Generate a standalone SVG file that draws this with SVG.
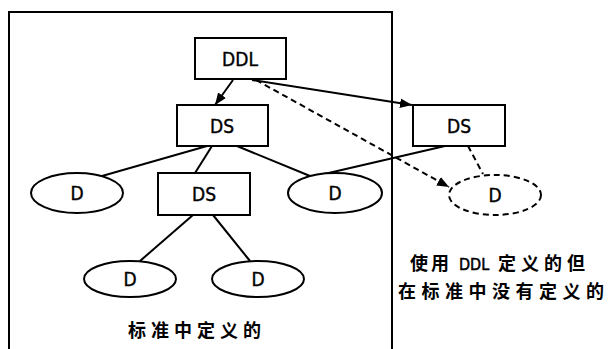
<svg xmlns="http://www.w3.org/2000/svg" width="608" height="349" viewBox="0 0 608 349">
  <style>
    .box { fill: #fff; stroke: #000; stroke-width: 2; }
    .dash { fill: #fff; stroke: #000; stroke-width: 2; stroke-dasharray: 6 4; }
    .edge { fill: none; stroke: #000; stroke-width: 2; }
    .edge-dash { fill: none; stroke: #000; stroke-width: 2; stroke-dasharray: 6 4; }
    .lbl { font-family: "DejaVu Sans Condensed", "DejaVu Sans", sans-serif; font-size: 19px; fill: #000; stroke: #000; stroke-width: 0.4; text-anchor: middle; }
    .cap { font-family: "Noto Sans CJK SC", "DejaVu Sans", sans-serif; font-size: 18px; font-weight: bold; fill: #000; }
    .lat { font-family: "DejaVu Sans Condensed", "DejaVu Sans", sans-serif; font-size: 16px; font-weight: normal; stroke: #000; stroke-width: 0.5; }
  </style>
  <defs>
    <marker id="arrow" viewBox="0 0 10 10" refX="10" refY="5" markerWidth="6" markerHeight="6" orient="auto" markerUnits="strokeWidth">
      <path d="M0,1 L10,5 L0,9 z" fill="#000"/>
    </marker>
  </defs>
  <rect width="608" height="349" fill="#fff"/>

  <!-- frame of the standard scope (open at bottom) -->
  <path class="edge" d="M9,349 V12 H392 V349"/>

  <!-- connectors -->
  <g id="connectors">
    <line class="edge" x1="233" y1="80" x2="215" y2="105" marker-end="url(#arrow)"/>
    <line class="edge" x1="252" y1="80" x2="412" y2="105" marker-end="url(#arrow)"/>
    <line class="edge-dash" x1="256" y1="80" x2="449" y2="187" marker-end="url(#arrow)"/>
    <line class="edge" x1="207" y1="146" x2="102" y2="176"/>
    <line class="edge" x1="212" y1="146" x2="195" y2="173"/>
    <line class="edge" x1="237" y1="146" x2="310" y2="176"/>
    <line class="edge" x1="445" y1="146" x2="320" y2="175"/>
    <line class="edge-dash" x1="468" y1="146" x2="483" y2="174"/>
    <line class="edge" x1="193" y1="215" x2="140" y2="261"/>
    <line class="edge" x1="213" y1="215" x2="250" y2="261"/>
  </g>

  <g id="ddl">
    <rect class="box" x="195" y="38" width="91" height="41"/>
    <text class="lbl" x="240" y="66">DDL</text>
  </g>
  <g id="ds-top">
    <rect class="box" x="177" y="105" width="91" height="41"/>
    <text class="lbl" x="222" y="133">DS</text>
  </g>
  <g id="ds-mid">
    <rect class="box" x="158" y="173" width="92" height="42"/>
    <text class="lbl" x="204" y="201">DS</text>
  </g>
  <g id="ds-right">
    <rect class="box" x="413" y="105" width="92" height="41"/>
    <text class="lbl" x="459" y="133">DS</text>
  </g>
  <g id="d-left">
    <ellipse class="box" cx="77" cy="193" rx="46" ry="20"/>
    <text class="lbl" x="77" y="200">D</text>
  </g>
  <g id="d-right">
    <ellipse class="box" cx="335" cy="193" rx="47" ry="20"/>
    <text class="lbl" x="335" y="200">D</text>
  </g>
  <g id="d-bottom-left">
    <ellipse class="box" cx="130" cy="279" rx="46" ry="18"/>
    <text class="lbl" x="130" y="286">D</text>
  </g>
  <g id="d-bottom-right">
    <ellipse class="box" cx="258" cy="279" rx="46" ry="18"/>
    <text class="lbl" x="258" y="286">D</text>
  </g>
  <g id="d-extension">
    <ellipse class="dash" cx="495" cy="195" rx="46" ry="20"/>
    <text class="lbl" x="495" y="202">D</text>
  </g>

  <!-- captions -->
  <text class="cap" x="128" y="337" letter-spacing="5">标准中定义的</text>
  <text class="cap" y="270"><tspan x="410" letter-spacing="3">使用 </tspan><tspan class="lat" x="459">DDL </tspan><tspan x="498" letter-spacing="5">定义的但</tspan></text>
  <text class="cap" x="398" y="298" letter-spacing="5.5">在标准中没有定义的</text>
</svg>
